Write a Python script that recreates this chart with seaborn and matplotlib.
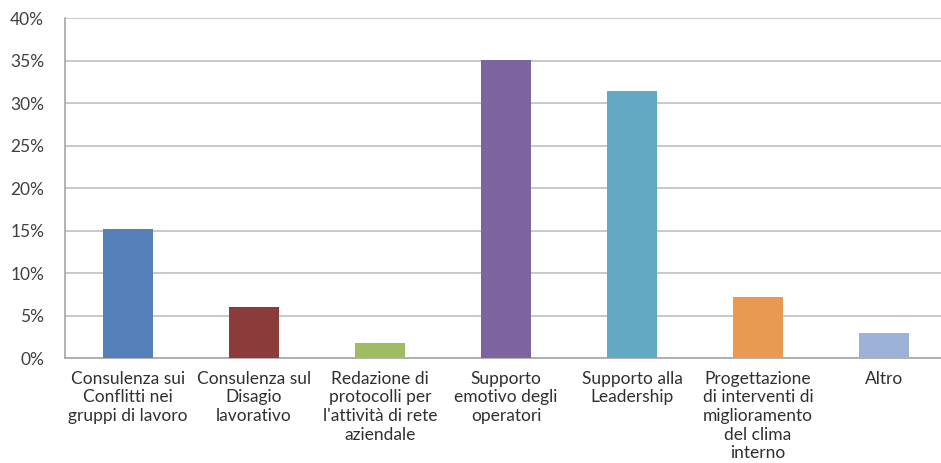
import matplotlib
matplotlib.use("Agg")
import matplotlib.pyplot as plt
import seaborn as sns
import pandas as pd
import numpy as np
from matplotlib.ticker import PercentFormatter

categories = [
    "Consulenza sui\nConflitti nei\ngruppi di lavoro",
    "Consulenza sul\nDisagio\nlavorativo",
    "Redazione di\nprotocolli per\nl'attività di rete\naziendale",
    "Supporto\nemotivo degli\noperatori",
    "Supporto alla\nLeadership",
    "Progettazione\ndi interventi di\nmiglioramento\ndel clima\ninterno",
    "Altro",
]
values = [15.2, 6.0, 1.8, 35.1, 31.5, 7.2, 3.0]
colors = ["#5580BA", "#8B3C3A", "#A0BC62", "#7B64A0", "#62AAC4", "#E99A52", "#9BB2D6"]
y_ticks = [0, 5, 10, 15, 20, 25, 30, 35, 40]

df = pd.DataFrame({"cat": categories, "val": values})

sns.set_style("white")
plt.rcParams["font.family"] = ["Lato", "DejaVu Sans"]

fig = plt.figure(figsize=(9.41, 4.63), dpi=100)
ax = fig.add_axes([65 / 941, 1 - 358.3 / 463, 882 / 941, 340 / 463])

sns.barplot(data=df, x="cat", y="val", hue="cat", palette=colors,
            legend=False, width=0.4, ax=ax, saturation=1,
            edgecolor="none", zorder=3)

ax.set_ylim(0, 40)
ax.set_xlim(-0.5, len(categories) - 0.5)
ax.set_yticks(y_ticks)
ax.yaxis.set_major_formatter(PercentFormatter(decimals=0))
ax.grid(axis="y", color="#BFBFBF", linewidth=1.2, zorder=0)
ax.set_axisbelow(True)

for side in ["top", "right"]:
    ax.spines[side].set_visible(False)
for side in ["left", "bottom"]:
    ax.spines[side].set_color("#A6A6A6")
    ax.spines[side].set_linewidth(1.2)

ax.tick_params(axis="y", length=6, width=1.2, color="#A6A6A6",
               labelsize=12.5, labelcolor="#404040", pad=9)
ax.tick_params(axis="x", which="major", length=0, labelsize=12.5,
               labelcolor="#303030", pad=9)
ax.set_xticks(np.arange(-0.5, len(categories) + 0.5), minor=True)
ax.tick_params(axis="x", which="minor", length=5, width=1.2, color="#A6A6A6")
for lbl in ax.get_xticklabels():
    lbl.set_linespacing(1.2)
    lbl.set_horizontalalignment("center")
    lbl.set_verticalalignment("top")

ax.set_xlabel("")
ax.set_ylabel("")

fig.savefig("out.png", dpi=100)
